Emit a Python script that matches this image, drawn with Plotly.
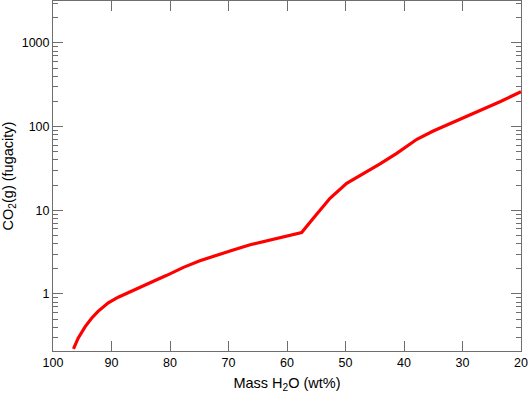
import plotly.graph_objects as go

mass_h2o = [96.5, 95.7, 94.5, 93.4, 92.3, 90.55, 88.85, 86.55, 84.3, 82.55, 80.55,
            77.7, 74.9, 72.0, 69.2, 66.3, 61.2, 57.5, 55.5, 52.65, 49.8, 47.0,
            44.1, 41.25, 37.8, 35.0, 29.3, 23.6, 20.0]
co2_fug = [0.22, 0.296, 0.407, 0.513, 0.62, 0.783, 0.915, 1.09, 1.28, 1.45, 1.67,
           2.08, 2.50, 2.93, 3.35, 3.88, 4.76, 5.43, 8.03, 13.9, 21.0, 27.2,
           35.8, 48.0, 70.6, 88.7, 131.5, 198.6, 262.0]

x_ticks = [100, 90, 80, 70, 60, 50, 40, 30, 20]
y_ticks = [1, 10, 100, 1000]
y_ticktext = ["1", "10", "100", "1000"]

axis_col = "#6e6e6e"
font_fam = "Liberation Sans, Arial, sans-serif"

fig = go.Figure()
fig.add_trace(go.Scatter(x=mass_h2o, y=co2_fug, mode="lines",
                         line=dict(color="#ff0000", width=3.2),
                         showlegend=False))

fig.update_layout(
    width=529, height=397,
    margin=dict(l=53, r=8, t=1, b=46),
    paper_bgcolor="white", plot_bgcolor="white",
    font=dict(family=font_fam, size=12, color="black"),
)
fig.update_xaxes(
    range=[100, 20], tickvals=x_ticks, ticks="inside", ticklen=10,
    tickcolor=axis_col, tickwidth=1, showline=True, linecolor=axis_col,
    linewidth=1, mirror="ticks", showgrid=False, zeroline=False,
    automargin=False,
    tickfont=dict(size=12.5, color="black"),
    title=dict(text="Mass H<sub>2</sub>O (wt%)", font=dict(size=14.5), standoff=8),
)
fig.update_yaxes(
    type="log", range=[-0.682, 3.502], tickvals=y_ticks, ticktext=y_ticktext,
    ticks="inside", ticklen=10, tickcolor=axis_col, tickwidth=1,
    showline=True, linecolor=axis_col, linewidth=1, mirror="ticks",
    showgrid=False, zeroline=False, automargin=False,
    minor=dict(ticks="inside", ticklen=5, tickcolor=axis_col, tickwidth=1,
               showgrid=False, tickvals=[m * d for d in [0.1, 1, 10, 100, 1000]
                                          for m in range(2, 10)]),
    tickfont=dict(size=12.5, color="black"),
    title=dict(text="CO<sub>2</sub>(g) (fugacity)", font=dict(size=14.5), standoff=8),
)

fig.write_html("out.html",
               config={"displayModeBar": False},
               post_script="document.body.style.margin='0';"
                           "document.body.style.overflow='hidden';")
